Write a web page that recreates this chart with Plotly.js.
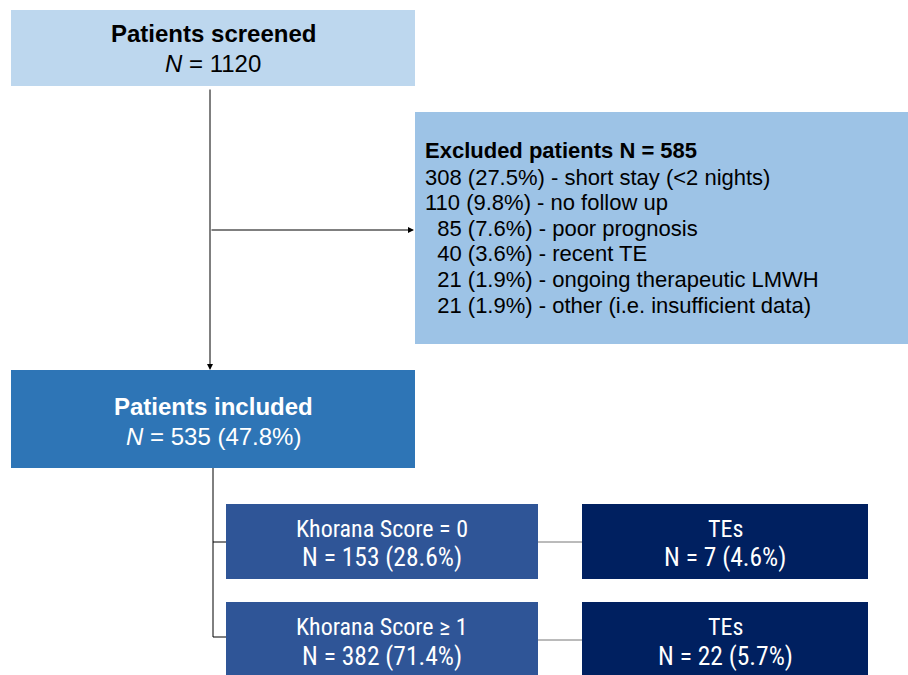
<!DOCTYPE html>
<html>
<head>
<meta charset="utf-8">
<script src="https://cdn.plot.ly/plotly-3.0.1.min.js"></script>
<style>html,body{margin:0;padding:0;background:#fff;}#chart{width:908px;height:675px;}</style>
</head>
<body>
<div id="chart"></div>
<script>
// Flow chart content
const screenedLabel = ["<b>Patients screened</b>", "<i>N</i> = 1120"];
const excludedTitle = "<b>Excluded patients N = 585</b>";
const excludedCounts = [308, 110, 85, 40, 21, 21];
const excludedPct = ["27.5%", "9.8%", "7.6%", "3.6%", "1.9%", "1.9%"];
const excludedReasons = ["short stay (<2 nights)", "no follow up", "poor prognosis", "recent TE", "ongoing therapeutic LMWH", "other (i.e. insufficient data)"];
const includedLabel = ["<b>Patients included</b>", "<i>N</i> = 535 (47.8%)"];
const khoranaLabels = ["Khorana Score = 0", "Khorana Score \u2265 1"];
const khoranaN = [153, 382];
const khoranaPct = ["28.6%", "71.4%"];
const teN = [7, 22];
const tePct = ["4.6%", "5.7%"];

const AR = "Liberation Sans, Arial, Helvetica, sans-serif";
const NAR = "Roboto Condensed, Arial Narrow, Liberation Sans Narrow, sans-serif";

function rect(x0, y0, x1, y1, color) {
  return {type: 'rect', xref: 'x', yref: 'y', x0, y0, x1, y1, fillcolor: color, line: {width: 0}, layer: 'below'};
}
function line(x0, y0, x1, y1, color) {
  return {type: 'line', xref: 'x', yref: 'y', x0, y0, x1, y1, line: {color: color || '#000', width: 1}};
}
function txt(x, y, text, size, color, family, anchor) {
  return {x, y, xref: 'x', yref: 'y', text, showarrow: false, xanchor: anchor || 'center', yanchor: 'middle',
          borderpad: 0, font: {size, color, family}};
}
function arrow(x0, y0, x1, y1) {
  return {x: x1, y: y1, ax: x0, ay: y0, xref: 'x', yref: 'y', axref: 'x', ayref: 'y', text: '', showarrow: true,
          arrowhead: 2, arrowsize: 1.2, arrowwidth: 1, arrowcolor: '#000', standoff: 0};
}

const shapes = [
  rect(11, 10, 415, 86, '#BDD7EE'),
  rect(415, 112, 908, 344, '#9DC3E6'),
  rect(11, 370, 415, 468, '#2E75B6'),
  rect(226, 504, 538, 579, '#2F5597'),
  rect(226, 602, 538, 680, '#2F5597'),
  rect(582, 504, 868, 579, '#002060'),
  rect(582, 602, 868, 680, '#002060'),
  line(213, 468, 213, 637),
  line(213, 542, 226, 542),
  line(213, 637, 226, 637),
  line(538, 542, 582, 542, '#777'),
  line(538, 640, 582, 640, '#777')
];

const annotations = [
  arrow(210, 88, 210, 370),
  arrow(210, 230, 414, 230),
  txt(213, 33, screenedLabel[0], 24, '#000', AR),
  txt(213, 63, screenedLabel[1], 24, '#000', AR),
  txt(424, 150, excludedTitle, 22, '#000', AR, 'left'),
  txt(213, 406, includedLabel[0], 24, '#fff', AR),
  txt(213, 436, includedLabel[1], 24, '#fff', AR)
];
excludedCounts.forEach((c, i) => {
  const pad = c >= 100 ? '' : '\u00a0\u00a0';
  annotations.push(txt(424, 177 + i * 25.6, pad + c + ' (' + excludedPct[i] + ') - ' + excludedReasons[i].replace('<', '&lt;'), 22, '#000', AR, 'left'));
});
const rowY = [[529, 557], [627, 656]];
khoranaLabels.forEach((k, i) => {
  annotations.push(txt(382, rowY[i][0], k, 24, '#fff', NAR));
  annotations.push(txt(382, rowY[i][1], 'N = ' + khoranaN[i] + ' (' + khoranaPct[i] + ')', 25.5, '#fff', NAR));
  annotations.push(txt(725, rowY[i][0], 'TEs', 24, '#fff', NAR));
  annotations.push(txt(725, rowY[i][1], 'N = ' + teN[i] + ' (' + tePct[i] + ')', 25.5, '#fff', NAR));
});

const layout = {
  width: 908, height: 675,
  margin: {l: 0, r: 0, t: 0, b: 0},
  paper_bgcolor: '#fff', plot_bgcolor: '#fff',
  xaxis: {range: [0, 908], visible: false, fixedrange: true},
  yaxis: {range: [675, 0], visible: false, fixedrange: true},
  shapes, annotations, showlegend: false
};
Plotly.newPlot('chart', [{x: [], y: [], type: 'scatter', mode: 'markers', hoverinfo: 'skip'}], layout, {displayModeBar: false, staticPlot: true});
</script>
</body>
</html>
